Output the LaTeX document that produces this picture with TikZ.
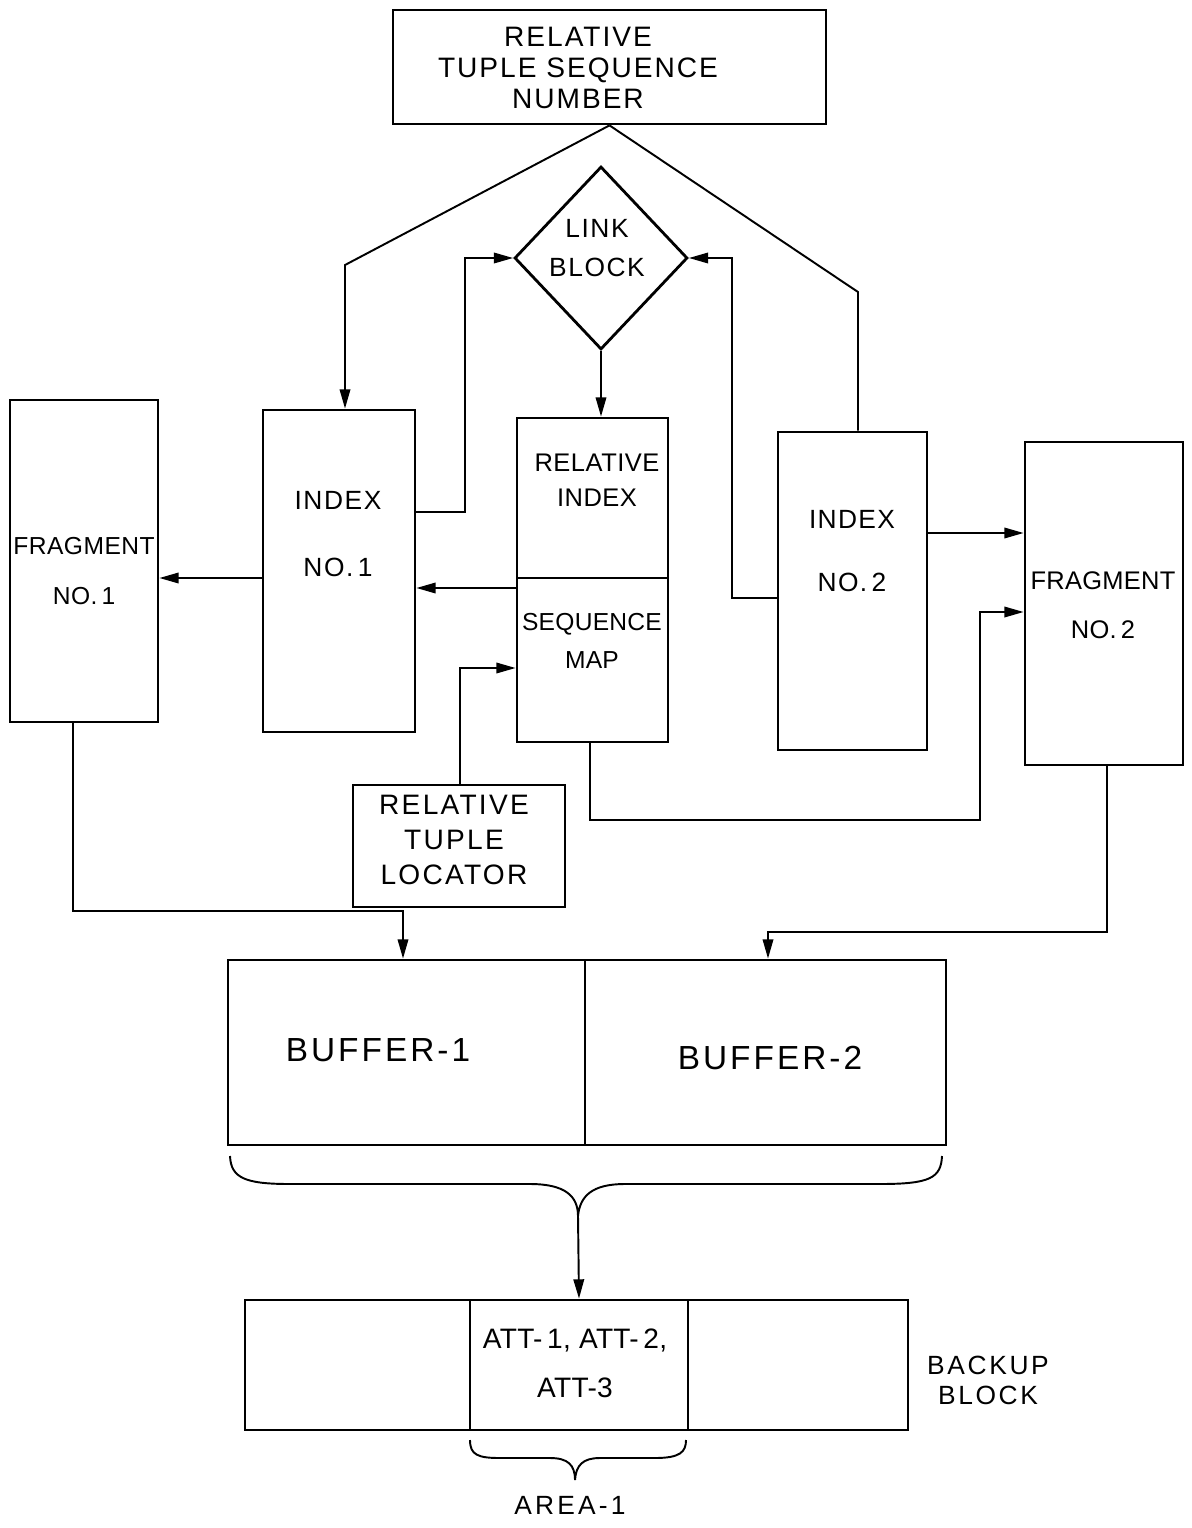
\documentclass[tikz,border=0pt]{standalone}
\usepackage{fontspec}
\setmainfont{Liberation Sans}
\usetikzlibrary{arrows.meta,shapes.geometric}
\newcommand\myfs[3]{\fontsize{#1}{#2}\selectfont\addfontfeatures{LetterSpace=#3}}
\begin{document}
\begin{tikzpicture}[x=0.02cm,y=-0.02cm,
  box/.style={draw, line width=1.6pt, inner sep=0pt},
  conn/.style={line width=1.1pt},
  arr/.style={line width=1.1pt, -{Triangle[length=11pt,width=6pt]}},
  txt/.style={align=center, inner sep=0pt}]
\path[use as bounding box, fill=white] (0,0) rectangle (1192,1528);

% boxes
\node[box, minimum width=8.66cm, minimum height=2.28cm] (top) at (609.5,67) {};
\node[diamond, box, aspect=0.95, minimum width=3.46cm, minimum height=3.66cm] (link) at (601,258) {};
\node[box, minimum width=2.96cm, minimum height=6.44cm] (frag1) at (84,561) {};
\node[box, minimum width=3.04cm, minimum height=6.44cm] (idx1) at (339,571) {};
\node[box, minimum width=3.02cm, minimum height=3.2cm] (ri) at (592.5,498) {};
\node[box, minimum width=3.02cm, minimum height=3.28cm] (sm) at (592.5,660) {};
\node[box, minimum width=2.98cm, minimum height=6.36cm] (idx2) at (852.5,591) {};
\node[box, minimum width=3.16cm, minimum height=6.46cm] (frag2) at (1104,603.5) {};
\node[box, minimum width=4.24cm, minimum height=2.44cm] (rtl) at (459,846) {};
\node[box, minimum width=7.14cm, minimum height=3.7cm] (buf1) at (406.5,1052.5) {};
\node[box, minimum width=7.22cm, minimum height=3.7cm] (buf2) at (765.5,1052.5) {};
\node[box, minimum width=4.5cm, minimum height=2.6cm] (bleft) at (357.5,1365) {};
\node[box, minimum width=4.36cm, minimum height=2.6cm] (bmid) at (579,1365) {};
\node[box, minimum width=4.4cm, minimum height=2.6cm] (bright) at (798,1365) {};

% texts
\node[txt, font={\myfs{16}{17.6}{7}}] (ttop) at (578,68) {RELATIVE\\TUPLE SEQUENCE\\NUMBER};
\node[txt, font={\myfs{15}{22}{6}}] (tlink) at (597,248) {LINK\\BLOCK};
\node[txt, font={\myfs{14}{28}{2}}] (tfrag1) at (84,571) {FRAGMENT\\NO.\,1};
\node[txt, font={\myfs{15}{38.5}{6}}] (tidx1) at (338,534) {INDEX\\NO.\,1};
\node[txt, font={\myfs{14.5}{20}{2}}] (tri) at (597,480) {RELATIVE\\INDEX};
\node[txt, font={\myfs{14}{21.5}{1}}] (tsm) at (592,641) {SEQUENCE\\MAP};
\node[txt, font={\myfs{15}{36}{5}}] (tidx2) at (852,551) {INDEX\\NO.\,2};
\node[txt, font={\myfs{14.5}{28}{1}}] (tfrag2) at (1103,605) {FRAGMENT\\NO.\,2};
\node[txt, font={\myfs{16}{20}{8}}] (trtl) at (454,840) {RELATIVE\\TUPLE\\LOCATOR};
\node[txt, font={\myfs{19}{22}{9}}] (tbuf1) at (378,1050) {BUFFER-1};
\node[txt, font={\myfs{19}{22}{9}}] (tbuf2) at (770,1058) {BUFFER-2};
\node[txt, font={\myfs{16}{28}{1}}] (tatt) at (575,1363) {ATT-\,1, ATT-\,2,\\ATT-3};
\node[txt, font={\myfs{15}{17}{10}}] (tbackup) at (988,1380) {BACKUP\\BLOCK};
\node[txt, font={\myfs{15}{17}{12}}] (tarea) at (570,1505) {AREA-1};

% connectors
\draw[arr] (top.south) -- (345,265) -- (345,265 |- idx1.north);
\draw[conn] (top.south) -- (858,292) -- (858,292 |- idx2.north);
\draw[arr] (link.south) -- (link.south |- ri.north);
\draw[arr] (idx1.east |- 0,512) -- (465,512) -- (465,512 |- link.west) -- (link.west);
\draw[arr] (idx2.west |- 0,598) -- (732,598) -- (732,598 |- link.east) -- (link.east);
\draw[arr] (idx1.west |- 0,578) -- (frag1.east |- 0,578);
\draw[arr] (sm.west |- 0,588) -- (idx1.east |- 0,588);
\draw[arr] (460,0 |- rtl.north) -- (460,668) -- (sm.west |- 0,668);
\draw[arr] (590,0 |- sm.south) -- (590,820) -- (980,820) -- (980,612) -- (frag2.west |- 0,612);
\draw[arr] (idx2.east |- 0,533) -- (frag2.west |- 0,533);
\draw[arr] (73,0 |- frag1.south) -- (73,911) -- (403,911) -- (403,0 |- buf1.north);
\draw[arr] (1107,0 |- frag2.south) -- (1107,932) -- (768,932) -- (768,0 |- buf2.north);

% big brace
\draw[conn] (230,1156) .. controls (231,1178) and (245,1184) .. (290,1184) -- (530,1184)
  .. controls (565,1184) and (578,1196) .. (578,1216) coordinate (bt)
  .. controls (580,1196) and (592,1184) .. (625,1184) -- (880,1184)
  .. controls (930,1184) and (941,1178) .. (942,1156);
\draw[arr] (bt) -- (bmid.north);

% small brace
\draw[conn] (470,1440) .. controls (470,1455) and (478,1458) .. (500,1458) -- (550,1458)
  .. controls (568,1458) and (575,1465) .. (575,1480) coordinate (st)
  .. controls (576,1465) and (583,1458) .. (600,1458) -- (655,1458)
  .. controls (680,1458) and (686,1452) .. (686,1440);
\end{tikzpicture}
\end{document}
